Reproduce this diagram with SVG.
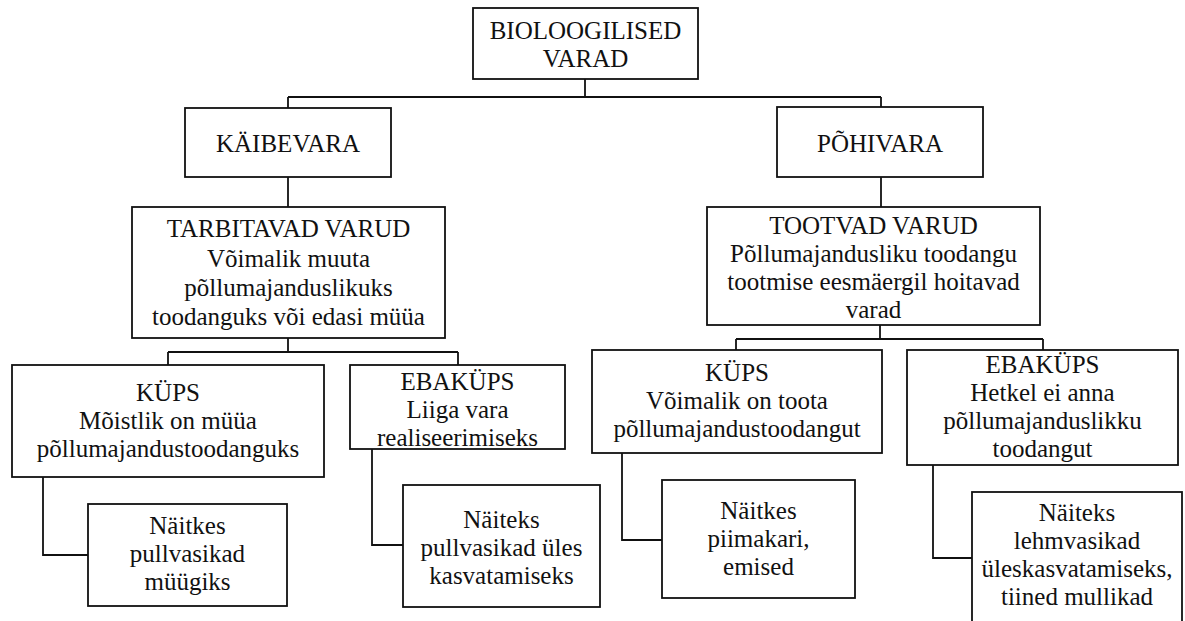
<svg xmlns="http://www.w3.org/2000/svg" width="1185" height="621" viewBox="0 0 1185 621">
<style>
.box{fill:#fff;stroke:#111;stroke-width:1.8}
.con{fill:none;stroke:#111;stroke-width:1.8}
text{font-family:"Liberation Serif","Times New Roman",serif;font-size:25px;fill:#111;text-anchor:middle}
</style>
<rect width="1185" height="621" fill="#fff"/>
<g id="connectors" class="con">
<path d="M585,79 V97 M288,97 H881 M288,97 V108 M881,97 V107"/>
<path d="M288,177 V207"/>
<path d="M881,177 V207"/>
<path d="M288,338 V352 M168,352 H458 M168,352 V365 M458,352 V365"/>
<path d="M880,325 V339 M736,339 H1043 M736,339 V350 M1043,339 V350"/>
<path d="M43,477 V555 H88"/>
<path d="M372,449 V545 H403"/>
<path d="M622,453 V540 H662"/>
<path d="M933,465 V558 H972"/>
</g>
<g id="bio">
<rect class="box" x="473" y="8" width="225" height="71"/>
<text x="585.5" y="39">BIOLOOGILISED</text><text x="585.5" y="67">VARAD</text>
</g>
<g id="kaibevara">
<rect class="box" x="185" y="108" width="206" height="69"/>
<text x="288" y="152">KÄIBEVARA</text>
</g>
<g id="pohivara">
<rect class="box" x="777" y="107" width="206" height="70"/>
<text x="880" y="152">PÕHIVARA</text>
</g>
<g id="tarbitavad">
<rect class="box" x="132" y="207" width="313" height="131"/>
<text x="288.5" y="237">TARBITAVAD VARUD</text><text x="288.5" y="267">Võimalik muuta</text><text x="288.5" y="296">põllumajanduslikuks</text><text x="288.5" y="325">toodanguks või edasi müüa</text>
</g>
<g id="tootvad">
<rect class="box" x="707" y="207" width="333" height="118"/>
<text x="873.5" y="234">TOOTVAD VARUD</text><text x="873.5" y="262">Põllumajandusliku toodangu</text><text x="873.5" y="290">tootmise eesmäergil hoitavad</text><text x="873.5" y="318">varad</text>
</g>
<g id="kups1">
<rect class="box" x="12" y="365" width="312" height="112"/>
<text x="168" y="401">KÜPS</text><text x="168" y="429">Mõistlik on müüa</text><text x="168" y="457">põllumajandustoodanguks</text>
</g>
<g id="naide1">
<rect class="box" x="88" y="504" width="199" height="102"/>
<text x="187.5" y="534">Näitkes</text><text x="187.5" y="562">pullvasikad</text><text x="187.5" y="590">müügiks</text>
</g>
<g id="ebakups1">
<rect class="box" x="350" y="365" width="215" height="84"/>
<text x="457.5" y="390">EBAKÜPS</text><text x="457.5" y="418">Liiga vara</text><text x="457.5" y="446">realiseerimiseks</text>
</g>
<g id="naide2">
<rect class="box" x="403" y="485" width="197" height="122"/>
<text x="501.5" y="528">Näiteks</text><text x="501.5" y="556">pullvasikad üles</text><text x="501.5" y="584">kasvatamiseks</text>
</g>
<g id="kups2">
<rect class="box" x="592" y="350" width="290" height="103"/>
<text x="737" y="381">KÜPS</text><text x="737" y="409">Võimalik on toota</text><text x="737" y="437">põllumajandustoodangut</text>
</g>
<g id="naide3">
<rect class="box" x="662" y="480" width="193" height="118"/>
<text x="758.5" y="519">Näitkes</text><text x="758.5" y="547">piimakari,</text><text x="758.5" y="575">emised</text>
</g>
<g id="ebakups2">
<rect class="box" x="907" y="350" width="271" height="115"/>
<text x="1042.5" y="373">EBAKÜPS</text><text x="1042.5" y="401">Hetkel ei anna</text><text x="1042.5" y="429">põllumajanduslikku</text><text x="1042.5" y="457">toodangut</text>
</g>
<g id="naide4">
<rect class="box" x="972" y="492" width="210" height="150"/>
<text x="1077" y="521">Näiteks</text><text x="1077" y="549">lehmvasikad</text><text x="1077" y="577">üleskasvatamiseks,</text><text x="1077" y="605">tiined mullikad</text>
</g>
</svg>
